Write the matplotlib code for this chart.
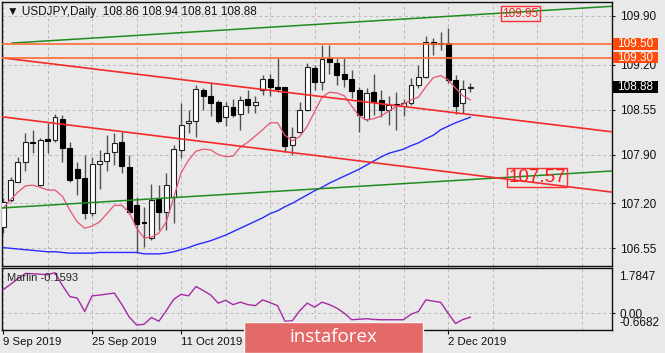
import matplotlib
matplotlib.use("Agg")
import matplotlib.pyplot as plt
import matplotlib.transforms as mtransforms
from matplotlib.patches import Rectangle
import numpy as np
import pandas as pd

# --- data ---
dates = pd.bdate_range("2019-09-09", "2019-12-05")

opens = [106.86, 107.25, 107.51, 107.80, 108.09, 107.46, 108.12, 108.11, 108.42, 107.99,
         107.70, 107.56, 107.06, 107.76, 107.81, 107.94, 108.08, 107.72, 107.17, 106.93,
         106.70, 107.26, 107.08, 107.29, 107.97, 108.35, 108.39, 108.83, 108.74, 108.66,
         108.45, 108.59, 108.49, 108.70, 108.62, 108.83, 108.99, 108.87, 108.87, 108.04,
         108.22, 108.55, 109.15, 108.95, 109.29, 109.22, 109.06, 108.99, 108.83, 108.42,
         108.81, 108.69, 108.54, 108.63, 108.60, 108.65, 108.90, 109.02, 109.52, 109.51,
         109.51, 108.98, 108.65, 108.86]
highs = [107.28, 107.58, 107.86, 108.21, 108.26, 108.14, 108.35, 108.49, 108.47, 108.09,
         107.80, 107.90, 107.87, 107.97, 108.18, 108.21, 108.23, 107.90, 107.29, 107.15,
         107.48, 107.46, 107.63, 108.04, 108.64, 108.55, 108.91, 108.86, 108.93, 108.69,
         108.66, 108.71, 108.74, 108.83, 108.74, 109.05, 109.07, 109.29, 108.88, 108.30,
         108.66, 109.22, 109.19, 109.48, 109.48, 109.29, 109.29, 109.12, 108.88, 108.86,
         109.07, 108.83, 108.75, 108.80, 108.71, 109.00, 109.19, 109.61, 109.58, 109.67,
         109.72, 109.05, 108.98, 108.94]
lows = [106.77, 107.22, 107.50, 107.66, 107.92, 107.45, 107.93, 108.09, 107.80, 107.51,
        107.32, 106.97, 107.01, 107.41, 107.66, 107.75, 107.63, 107.05, 106.50, 106.57,
        106.67, 106.81, 106.81, 106.91, 107.85, 108.21, 108.16, 108.55, 108.46, 108.35,
        108.31, 108.45, 108.26, 108.50, 108.50, 108.76, 108.74, 108.80, 107.94, 107.90,
        108.21, 108.53, 108.83, 108.83, 109.06, 108.91, 108.88, 108.72, 108.23, 108.38,
        108.47, 108.45, 108.33, 108.26, 108.46, 108.62, 108.86, 109.01, 109.34, 109.41,
        108.93, 108.49, 108.50, 108.81]
closes = [107.22, 107.54, 107.80, 108.09, 108.07, 108.11, 108.10, 108.45, 107.99, 107.54,
          107.56, 107.06, 107.76, 107.81, 107.92, 108.07, 107.73, 107.08, 106.90, 106.91,
          107.24, 107.08, 107.47, 107.98, 108.33, 108.39, 108.85, 108.74, 108.64, 108.38,
          108.60, 108.47, 108.69, 108.62, 108.66, 108.99, 108.88, 108.85, 108.02, 108.16,
          108.55, 109.16, 108.95, 109.28, 109.24, 109.05, 108.99, 108.82, 108.47, 108.79,
          108.66, 108.54, 108.61, 108.61, 108.64, 108.91, 109.02, 109.53, 109.50, 109.49,
          108.98, 108.60, 108.85, 108.88]

ma_fast = [107.13, 107.25, 107.36, 107.45, 107.46, 107.43, 107.39, 107.39, 107.30, 107.10,
           106.93, 106.84, 106.87, 106.93, 107.05, 107.17, 107.17, 107.07, 106.84, 106.70,
           106.71, 106.77, 106.93, 107.28, 107.64, 107.82, 107.95, 107.98, 107.97, 107.90,
           107.87, 107.88, 108.01, 108.08, 108.17, 108.26, 108.36, 108.36, 108.18, 108.10,
           108.16, 108.31, 108.52, 108.73, 108.80, 108.79, 108.75, 108.60, 108.46, 108.40,
           108.42, 108.46, 108.53, 108.59, 108.63, 108.69, 108.73, 108.88, 109.01, 109.04,
           108.98, 108.86, 108.75, 108.69]
ma_slow = [106.56, 106.55, 106.54, 106.53, 106.52, 106.51, 106.50, 106.50, 106.49, 106.48,
           106.48, 106.48, 106.48, 106.49, 106.49, 106.49, 106.49, 106.49, 106.49, 106.47,
           106.47, 106.47, 106.48, 106.50, 106.53, 106.56, 106.60, 106.63, 106.66, 106.70,
           106.74, 106.79, 106.84, 106.89, 106.94, 106.99, 107.05, 107.09, 107.15, 107.20,
           107.26, 107.32, 107.38, 107.43, 107.49, 107.54, 107.59, 107.64, 107.69, 107.75,
           107.81, 107.87, 107.92, 107.95, 107.98, 108.03, 108.07, 108.13, 108.18, 108.26,
           108.31, 108.36, 108.40, 108.44]
marlin = [0.93, 1.15, 1.37, 1.58, 1.57, 1.55, 1.53, 1.61, 1.10, 0.66,
          0.60, 0.07, 0.69, 0.72, 0.76, 0.80, 0.35, -0.15, -0.47, -0.44,
          -0.17, -0.32, 0.10, 0.55, 0.75, 0.69, 1.06, 0.90, 0.72, 0.40,
          0.51, 0.34, 0.44, 0.34, 0.30, 0.53, 0.42, 0.30, -0.32, -0.30,
          0.10, 0.40, 0.24, 0.44, 0.34, 0.20, 0.00, -0.26, -0.24, -0.22,
          -0.25, -0.26, -0.26, -0.26, -0.26, -0.04, 0.07, 0.53, 0.48, 0.43,
          0.00, -0.41, -0.25, -0.1593]

# trend lines: (bar index, price) anchor pairs
green_up = ([1.2, 82.1], [109.51, 110.04])
green_dn = ([-0.4, 82.1], [107.13, 107.665])
red_up = ([-0.4, 82.1], [109.30, 108.23])
red_dn = ([-0.4, 82.1], [108.45, 107.36])
levels = [109.50, 109.30]

price_ticks = [106.55, 107.20, 107.90, 108.55, 109.20, 109.90]
label_bars = [0, 12, 24, 36, 48, 60]

BG = "#e9e9e9"
GRID = "#b8b8b8"
FONT = ["Liberation Sans", "DejaVu Sans"]
plt.rcParams["font.family"] = FONT

W, H = 665, 353
fig = plt.figure(figsize=(W / 100, H / 100), dpi=100, facecolor=BG)
ax = fig.add_axes([2 / W, 1 - 265.5 / H, 610 / W, 264 / H], facecolor=BG)
ax2 = fig.add_axes([2 / W, 1 - 330 / H, 610 / W, 61.7 / H], facecolor=BG)

x = np.arange(len(opens))
o, h, l, c = map(np.array, (opens, highs, lows, closes))

# candles
ax.vlines(x, l, h, color="#505050", lw=1, zorder=2)
up = c >= o
body_lo = np.minimum(o, c)
body_h = np.maximum(np.abs(c - o), 0.012)
ax.bar(x[up], body_h[up], bottom=body_lo[up], width=0.66, color="white",
       edgecolor="#202020", lw=0.8, zorder=3)
ax.bar(x[~up], body_h[~up], bottom=body_lo[~up], width=0.66, color="black",
       edgecolor="black", lw=0.8, zorder=3)

ax.plot(x, ma_fast, color="#e8546e", lw=0.9, zorder=4)
ax.plot(x, ma_slow, color="#2a2aff", lw=1, zorder=4)

for xs, ys in (green_up, green_dn):
    ax.plot(xs, ys, color="#1e8c1e", lw=1.1, zorder=4)
for xs, ys in (red_up, red_dn):
    ax.plot(xs, ys, color="#f52a2a", lw=1.2, zorder=4)
for lv in levels:
    ax.axhline(lv, color="#ff6a35", lw=1.2, zorder=4)

ax.text(69.7, 109.93, "109.95", color="#ff2020", fontsize=8.5, ha="center", va="center",
        zorder=6, bbox=dict(boxstyle="square,pad=0.12", fc="none", ec="#ff3030", lw=1))
ax.text(72, 107.57, "107.57", color="#ff1a1a", fontsize=13.5, ha="center", va="center",
        zorder=6, bbox=dict(boxstyle="square,pad=0.05", fc="none", ec="#ff3030", lw=1))

ax.set_xlim(-0.15, 82.1)
ax.set_ylim(106.302, 110.109)
ax.yaxis.tick_right()
ax.set_yticks(price_ticks)
ax.set_yticklabels([f"{p:.2f}" for p in price_ticks])
ax.set_xticks(range(0, 83, 6))
ax.tick_params(axis="x", length=0, labelbottom=False)
ax.tick_params(axis="y", length=2.5, width=0.8, pad=3, labelsize=8.5, colors="#111111")
ax.grid(True, color=GRID, ls=(0, (3, 3)), lw=0.7, zorder=0)

# price boxes on the right axis
blend = mtransforms.blended_transform_factory(ax.transAxes, ax.transData)
for price, fc in ((109.50, "#ff4a0a"), (109.30, "#ff4a0a"), (closes[-1], "black")):
    ax.add_patch(Rectangle((1.0016, price - 0.085), 0.0738, 0.17, transform=blend,
                           fc=fc, ec="none", clip_on=False, zorder=7))
    ax.text(1.0016 + 0.0369, price, f"{price:.2f}", transform=blend, ha="center",
            va="center", color="white", fontsize=8.5, clip_on=False, zorder=8)

# indicator panel
ax2.plot(x, marlin, color="#a52aa5", lw=1, zorder=3)
ax2.set_xlim(-0.15, 82.1)
ax2.set_ylim(-0.6682, 1.7847)
ax2.yaxis.tick_right()
ax2.set_yticks([0])
ax2.set_yticklabels(["0.00"])
ax2.set_xticks(label_bars)
ax2.set_xticklabels([f"{dates[i].day} {dates[i]:%b %Y}" for i in label_bars], ha="left")
ax2.set_xticks(range(6, 83, 12), minor=True)
ax2.tick_params(axis="x", which="major", length=3, width=0.8, pad=2, labelsize=8.2,
                colors="#111111")
ax2.tick_params(axis="x", which="minor", length=0)
ax2.tick_params(axis="y", length=2.5, width=0.8, pad=3, labelsize=8.5, colors="#111111")
ax2.grid(True, which="both", color=GRID, ls=(0, (3, 3)), lw=0.7, zorder=0)
ax2.text(1.012, 0.864, "1.7847", transform=ax2.transAxes, va="center", fontsize=8.5,
         color="#111111")
ax2.text(1.012, 0.11, "-0.6682", transform=ax2.transAxes, va="center", fontsize=8.5,
         color="#111111")
ax2.text(0.008, 0.843, f"Marlin {marlin[-1]:.4f}", transform=ax2.transAxes, va="center",
         fontsize=8, color="#222222")

for a in (ax, ax2):
    for s in a.spines.values():
        s.set_color("#111111")
        s.set_linewidth(1)

fig.text(7 / W, 1 - 12 / H,
         f"\u25bc USDJPY,Daily  {opens[-1]:.2f} {highs[-1]:.2f} {lows[-1]:.2f} {closes[-1]:.2f}",
         fontsize=8.5, va="center", color="#111111")

# watermark
fig.add_artist(Rectangle((244 / W, 0), 179 / W, 31.5 / H, transform=fig.transFigure,
                         fc="#e46a6a", ec="#f6f6f6", lw=1, zorder=10))
fig.text(333 / W, 1 - 337 / H, "instaforex", color="white", fontsize=13.5,
         family=["Open Sans", "DejaVu Sans"], ha="center", va="center", zorder=11)

fig.savefig("out.png", dpi=100, facecolor=BG)
